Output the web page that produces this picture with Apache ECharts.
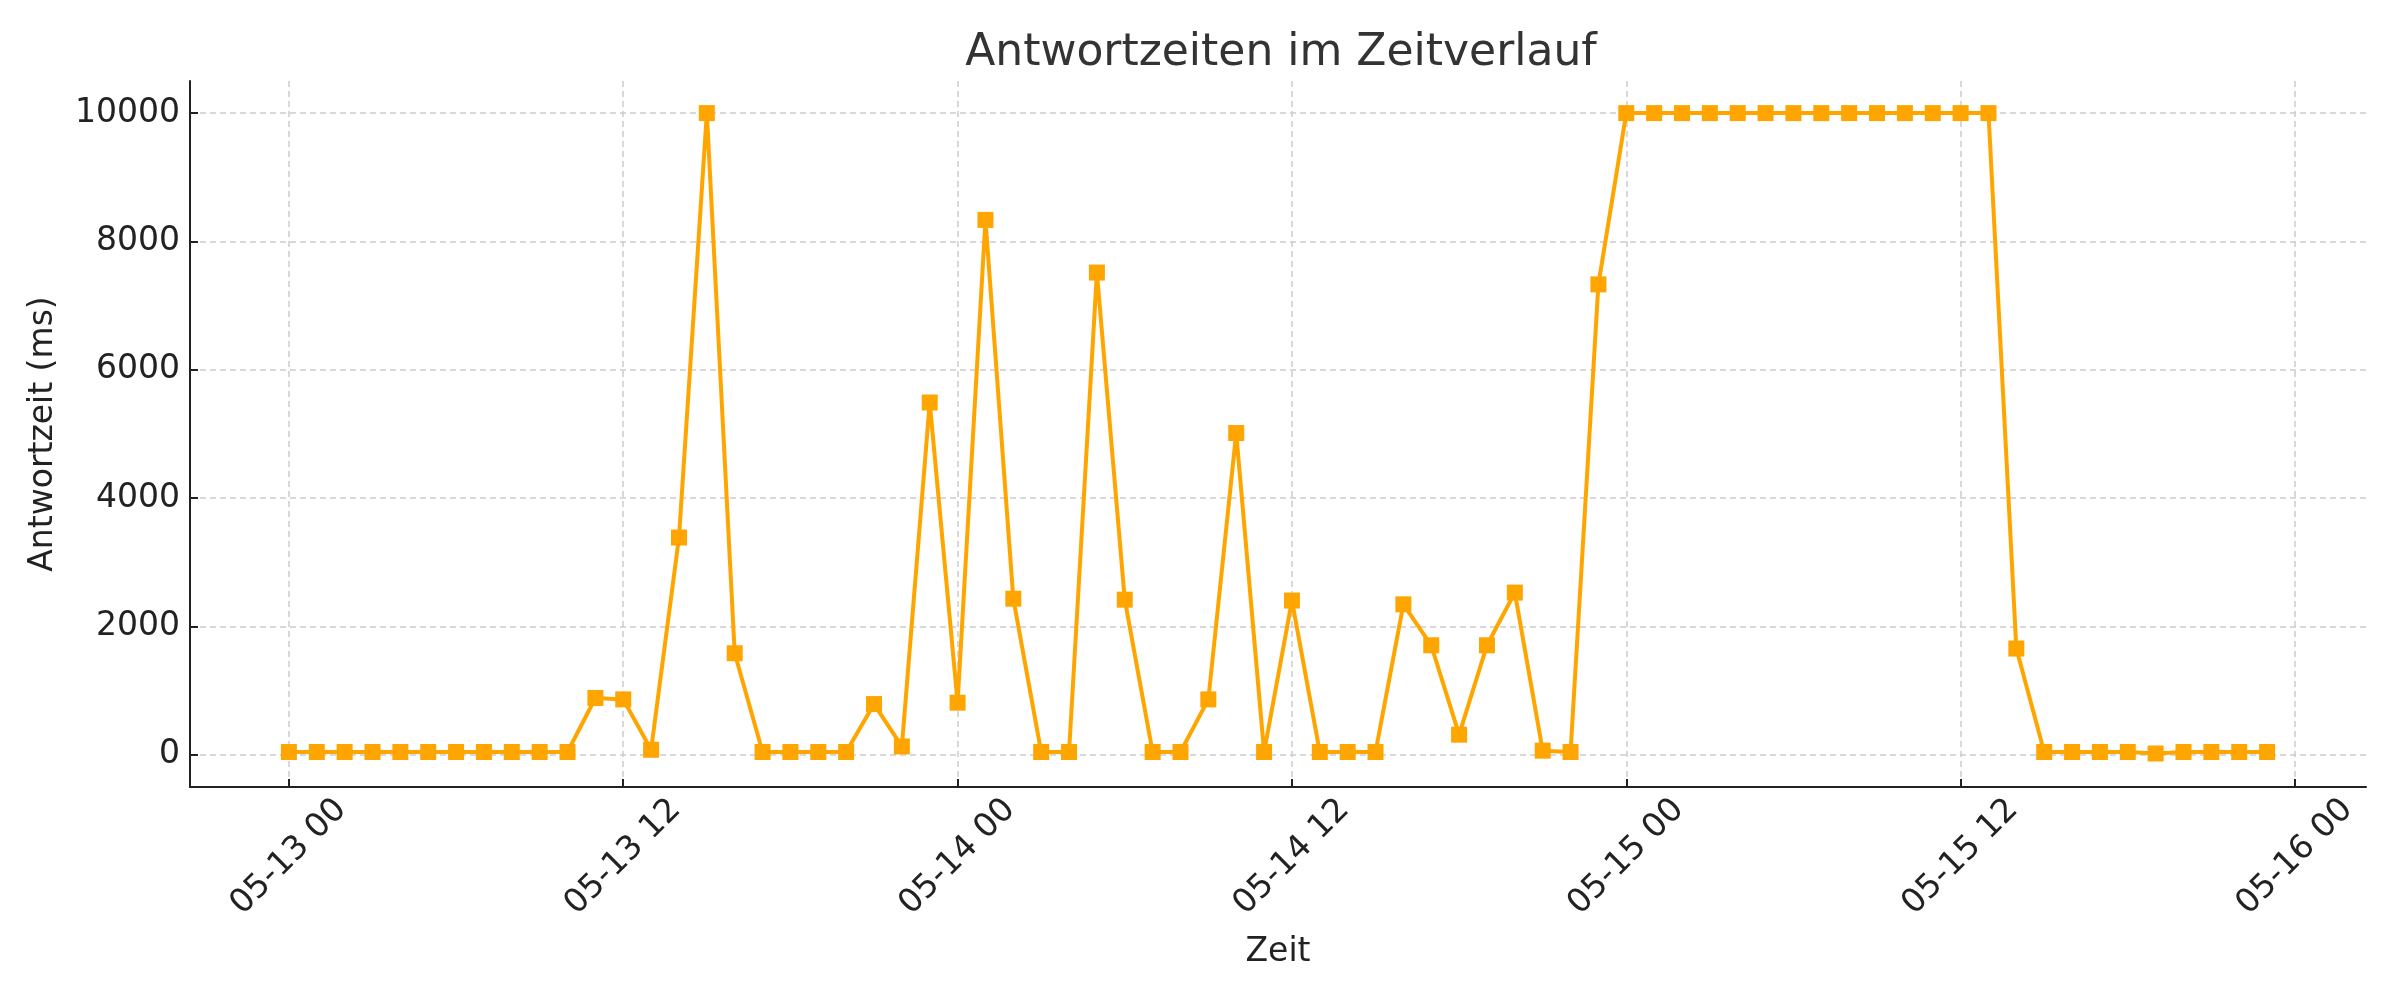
<!DOCTYPE html>
<html>
<head>
<meta charset="utf-8">
<script src="https://cdn.jsdelivr.net/npm/echarts@6.0.0/dist/echarts.min.js"></script>
<style>
html,body{margin:0;padding:0;background:#fff;}
#chart{width:2400px;height:1000px;}
</style>
</head>
<body>
<div id="chart"></div>
<script>
// Hours since 2024-05-13 00:00 (one reading per hour)
const hours = Array.from({length: 72}, (_, i) => i);
// Response times (ms)
const responseMs = [
  45, 45, 45, 45, 45, 45, 45, 45, 45, 45, 45,
  887, 865, 80, 3387, 10000, 1584, 45, 45, 45, 45,
  792, 132, 5491, 814, 8336, 2434, 45, 45, 7515, 2419,
  45, 45, 865, 5015, 45, 2405, 45, 45, 45, 2346,
  1708, 315, 1708, 2529, 66, 45, 7331,
  10000, 10000, 10000, 10000, 10000, 10000, 10000,
  10000, 10000, 10000, 10000, 10000, 10000, 10000,
  1657, 45, 45, 45, 45, 22, 45, 45, 45, 45
];
// X tick positions (hours) and their labels
const xTickHours = [0, 12, 24, 36, 48, 60, 72];
const xTickLabels = ['05-13 00', '05-13 12', '05-14 00', '05-14 12', '05-15 00', '05-15 12', '05-16 00'];
// Y tick values
const yTicks = [0, 2000, 4000, 6000, 8000, 10000];

const FONT = '"DejaVu Sans", "Noto Sans", sans-serif';
const chart = echarts.init(document.getElementById('chart'), null, {renderer: 'canvas'});

const seriesData = hours.map((h, i) => [h, responseMs[i]]);

chart.setOption({
  animation: false,
  backgroundColor: '#ffffff',
  title: {
    text: 'Antwortzeiten im Zeitverlauf',
    left: 1276,
    top: 27,
    textAlign: 'center',
    textStyle: {fontFamily: FONT, fontSize: 44, fontWeight: 'normal', color: '#333333'}
  },
  grid: {left: 190, right: 34, top: 81, bottom: 213, containLabel: false},
  xAxis: {
    type: 'value',
    min: -3.55,
    max: 74.55,
    name: 'Zeit',
    nameLocation: 'middle',
    nameGap: 149,
    nameTextStyle: {fontFamily: FONT, fontSize: 33, color: '#222222'},
    axisLine: {show: true, onZero: false, lineStyle: {color: '#222222', width: 2}},
    axisTick: {show: true, inside: true, length: 8, customValues: xTickHours, lineStyle: {color: '#222222', width: 2}},
    axisLabel: {
      customValues: xTickHours,
      rotate: 45,
      align: 'center',
      verticalAlign: 'middle',
      margin: 70,
      fontFamily: FONT,
      fontSize: 33,
      color: '#222222',
      formatter: (v) => {
        const idx = xTickHours.indexOf(Math.round(v));
        return idx >= 0 ? xTickLabels[idx] : '';
      }
    },
    splitLine: {show: true, lineStyle: {color: '#cccccc', width: 1.5, type: [6, 4]}}
  },
  yAxis: {
    type: 'value',
    min: -500,
    max: 10500,
    name: 'Antwortzeit (ms)',
    nameLocation: 'middle',
    nameGap: 130,
    nameRotate: 90,
    nameTextStyle: {fontFamily: FONT, fontSize: 33, color: '#222222'},
    axisLine: {show: true, onZero: false, lineStyle: {color: '#222222', width: 2}},
    axisTick: {show: true, inside: true, length: 8, customValues: yTicks, lineStyle: {color: '#222222', width: 2}},
    axisLabel: {
      customValues: yTicks,
      margin: 10,
      fontFamily: FONT,
      fontSize: 33,
      color: '#222222',
      formatter: (v) => String(Math.round(v))
    },
    splitLine: {show: true, lineStyle: {color: '#cccccc', width: 1.5, type: [6, 4]}}
  },
  series: [{
    type: 'line',
    data: seriesData,
    showAllSymbol: true,
    symbol: 'rect',
    symbolSize: 16,
    lineStyle: {color: '#FFA500', width: 4},
    itemStyle: {color: '#FFA500', borderWidth: 0},
    emphasis: {disabled: true}
  }]
});
</script>
</body>
</html>
